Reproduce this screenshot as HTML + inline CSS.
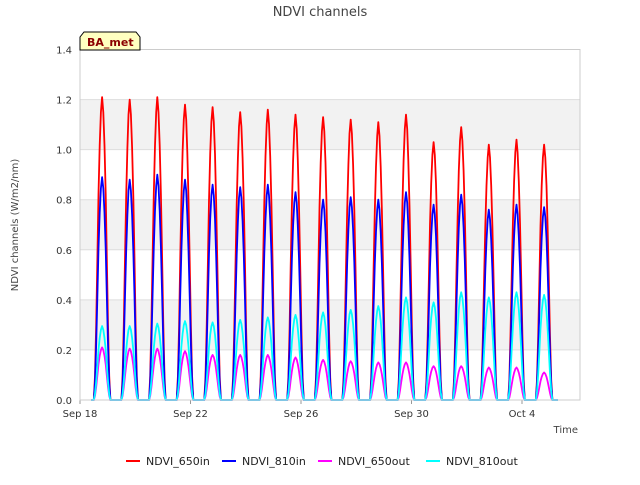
<!DOCTYPE html>
<html><head><meta charset="utf-8"><style>
body{margin:0;background:#fff;font-family:"Liberation Sans","DejaVu Sans",sans-serif;}
svg text{font-family:"DejaVu Sans","Liberation Sans",sans-serif;}
</style></head><body>
<svg id="c" width="640" height="480" viewBox="0 0 640 480">
<text x="320" y="16" text-anchor="middle" font-size="13" fill="#444">NDVI channels</text>
<text transform="translate(18,225) rotate(-90)" text-anchor="middle" font-size="10" fill="#444">NDVI channels (W/m2/nm)</text>
<text x="578" y="433" text-anchor="end" font-size="10" fill="#444">Time</text>
<g id="bands"></g><g id="grid"></g><g id="series"></g><g id="axes"></g>
<g>
<path d="M80,50 L80,37 L84,32 L136,32 L140,37 L140,50 Z" fill="#ffffc0" stroke="#000" stroke-width="1"/>
<text x="87" y="46" font-size="11" font-weight="bold" fill="#8b0000">BA_met</text></g>
<g id="legend"></g>
</svg>
<script>
const dayLabels=["Sep 18","Sep 22","Sep 26","Sep 30","Oct 4"];
const dayTicks=[0,4,8,12,16];
const yTicks=[0,0.2,0.4,0.6,0.8,1.0,1.2,1.4];
const peak650in=[1.21,1.20,1.21,1.18,1.17,1.15,1.16,1.14,1.13,1.12,1.11,1.14,1.03,1.09,1.02,1.04,1.02];
const peak810in=[0.89,0.88,0.90,0.88,0.86,0.85,0.86,0.83,0.80,0.81,0.80,0.83,0.78,0.82,0.76,0.78,0.77];
const peak650out=[0.21,0.205,0.205,0.195,0.18,0.18,0.18,0.17,0.16,0.155,0.15,0.15,0.135,0.135,0.13,0.13,0.11];
const peak810out=[0.295,0.295,0.305,0.315,0.31,0.32,0.33,0.34,0.35,0.36,0.375,0.41,0.39,0.43,0.41,0.43,0.42];
const profile=[0,0.08,0.25,0.47,0.68,0.84,0.95,1,0.95,0.84,0.68,0.47,0.25,0.08,0];
const X0=80,X1=580,Y0=400,Y1=49.5,DMAX=18.1;
const xs=d=>X0+(d/DMAX)*(X1-X0);
const ys=v=>Y0-(v/1.4)*(Y0-Y1);
const NS="http://www.w3.org/2000/svg";
function mk(t,a,p){const e=document.createElementNS(NS,t);for(const k in a)e.setAttribute(k,a[k]);p.appendChild(e);return e;}
const bands=document.getElementById('bands'),grid=document.getElementById('grid'),axes=document.getElementById('axes'),ser=document.getElementById('series'),leg=document.getElementById('legend');
[[1.0,1.2],[0.6,0.8],[0.2,0.4]].forEach(b=>{const r=mk('rect',{x:X0,y:ys(b[1]),width:X1-X0,height:ys(b[0])-ys(b[1]),fill:'#f2f2f2'},bands);

});
yTicks.forEach(v=>{const l=mk('line',{x1:X0,x2:X1,y1:ys(v),y2:ys(v),stroke:'#ddd','stroke-width':1},grid);


const t=mk('text',{x:X0-8,y:ys(v)+4,'text-anchor':'end','font-size':10,fill:'#333'},axes);t.textContent=v.toFixed(1);

});
dayTicks.forEach((d,i)=>{const l=mk('line',{x1:xs(d),x2:xs(d),y1:Y0,y2:Y0+4,stroke:'#999'},axes);


const t=mk('text',{x:xs(d),y:Y0+17,'text-anchor':'middle','font-size':10,fill:'#333'},axes);t.textContent=dayLabels[i];

});
mk('rect',{x:X0,y:Y1,width:X1-X0,height:Y0-Y1,fill:'none',stroke:'#ccc'},axes);
const series=[["NDVI_650in",peak650in,"#ff0000"],["NDVI_810in",peak810in,"#0000ff"],["NDVI_650out",peak650out,"#ff00ff"],["NDVI_810out",peak810out,"#00ffff"]];
series.forEach((s,si)=>{let pts=[[xs(0.4),ys(0)]];
s[1].forEach((pk,d)=>{profile.forEach((f,j)=>{const t=d+0.5+0.6*j/(profile.length-1);pts.push([xs(t),ys(pk*f)]);});});
pts.push([xs(17.3),ys(0)]);
const p=mk('path',{d:'M'+pts.map(q=>q[0].toFixed(1)+','+q[1].toFixed(1)).join('L'),fill:'none',stroke:s[2],'stroke-width':1.8,'stroke-linejoin':'round'},ser);


const lx=[126,222,318,426][si];
const g=mk('g',{},leg);


mk('line',{x1:lx,x2:lx+14,y1:461,y2:461,stroke:s[2],'stroke-width':2},g);
const t=mk('text',{x:lx+20,y:465,'font-size':11,fill:'#222'},g);t.textContent=s[0];});
</script>
</body></html>
